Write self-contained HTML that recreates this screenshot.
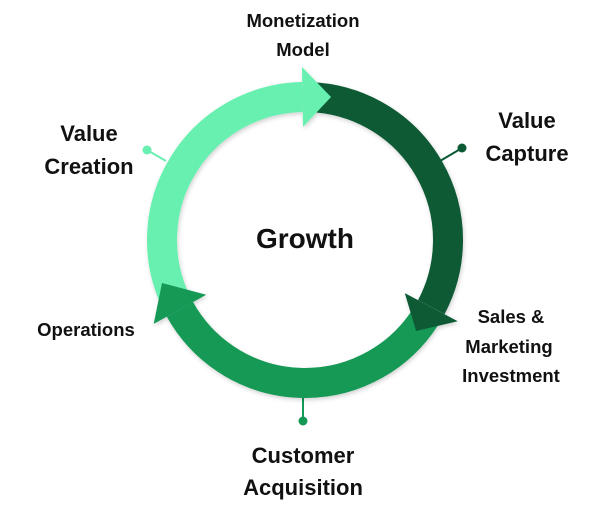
<!DOCTYPE html>
<html><head><meta charset="utf-8"><style>
html,body{margin:0;padding:0;background:#fff;}
svg{display:block;}
text{font-family:"Liberation Sans",Arial,sans-serif;font-weight:bold;fill:#111;text-anchor:middle;}
</style></head><body>
<svg width="610" height="517" viewBox="0 0 610 517" xmlns="http://www.w3.org/2000/svg">
<defs><filter id="sh" x="-20%" y="-20%" width="140%" height="140%"><feDropShadow dx="1" dy="2" stdDeviation="2" flood-color="#000" flood-opacity="0.18"/></filter></defs>
<line x1="147" y1="150" x2="166" y2="161" stroke="#68f0b0" stroke-width="2"/>
<circle cx="147" cy="150" r="4.5" fill="#68f0b0"/>
<line x1="462" y1="148" x2="440" y2="161" stroke="#0b5a35" stroke-width="2"/>
<circle cx="462" cy="148" r="4.5" fill="#0b5a35"/>
<line x1="303" y1="396" x2="303" y2="421" stroke="#129955" stroke-width="2"/>
<circle cx="303" cy="421" r="4.5" fill="#129955"/>
<g filter="url(#sh)">
<path d="M174.4 298.2 A143 143 0 0 1 302.5 97.0" fill="none" stroke="#68f0b0" stroke-width="30"/>
<path d="M310.0 97.1 A143 143 0 0 1 431.3 307.1" fill="none" stroke="#0b5a35" stroke-width="30"/>
<path d="M424.9 317.9 A143 143 0 0 1 179.9 309.3" fill="none" stroke="#129955" stroke-width="30"/>
<polygon points="303,127 302,67 331,97" fill="#68f0b0"/>
<polygon points="404.8,293.1 457.7,321.2 416.1,331" fill="#0b5a35"/>
<polygon points="206.2,294.8 153.7,323.9 162,283" fill="#129955"/>
</g>
<text x="305" y="248" font-size="28">Growth</text>
<text x="303" y="27" font-size="18.5">Monetization</text>
<text x="303" y="56" font-size="18.5">Model</text>
<text x="527" y="128" font-size="22">Value</text>
<text x="527" y="161" font-size="22">Capture</text>
<text x="89" y="141" font-size="22">Value</text>
<text x="89" y="174" font-size="22">Creation</text>
<text x="511" y="323" font-size="18.5">Sales &amp;</text>
<text x="509" y="353" font-size="18.5">Marketing</text>
<text x="511" y="382" font-size="18.5">Investment</text>
<text x="86" y="336" font-size="18.5">Operations</text>
<text x="303" y="463" font-size="22">Customer</text>
<text x="303" y="495" font-size="22">Acquisition</text>
</svg>
</body></html>
